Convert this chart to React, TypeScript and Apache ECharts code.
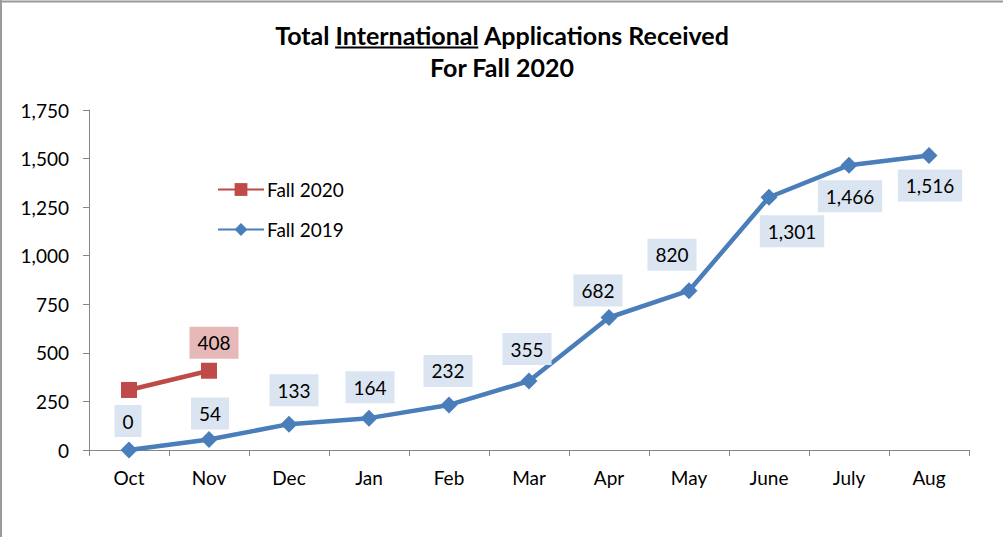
import React, { useEffect, useRef } from "react";
import * as echarts from "echarts";

const months = ["Oct", "Nov", "Dec", "Jan", "Feb", "Mar", "Apr", "May", "June", "July", "Aug"];
const fall2019 = [0, 54, 133, 164, 232, 355, 682, 820, 1301, 1466, 1516];
const fall2020 = [309, 408];
const seriesNames = ["Fall 2020", "Fall 2019"];
const titleParts = ["Total ", "International", " Applications Received"];
const titleLine2 = "For Fall 2020";

// label placement (styling, relative to each point)
const offsets2019 = [[-1, -29], [1, -26], [5, -34], [1, -31], [-1, -34], [-2, -32], [-11, -27], [-17, -36], [23, 34], [1, 31], [1, 30]];
const offsets2020 = [null, [5, -28]];

const FONT = "Lato, 'Open Sans', sans-serif";

function measure(text: string, font: string) {
  const c = document.createElement("canvas").getContext("2d")!;
  c.font = font;
  return c.measureText(text).width;
}

export default function App() {
  const ref = useRef<HTMLDivElement>(null);
  useEffect(() => {
    const chart = echarts.init(ref.current!, null, { renderer: "svg" });
    const titleFont = "bold 25px Lato";
    const w0 = measure(titleParts[0], titleFont);
    const w1 = measure(titleParts[1], titleFont);
    const wAll = measure(titleParts.join(""), titleFont);
    const cx = 502;
    const start = cx - wAll / 2;
    const ulX1 = start + w0;
    const ulX2 = ulX1 + w1;

    const labelBase = {
      show: true,
      position: "inside",
      fontSize: 19,
      fontFamily: FONT,
      color: "#000",
      padding: [7, 8, 6, 8],
    };

    chart.setOption({
      animation: false,
      backgroundColor: "#fff",
      textStyle: { fontFamily: FONT },
      grid: { left: 89, right: 34, top: 110, bottom: 87, containLabel: false },
      legend: {
        orient: "vertical",
        left: 212,
        top: 175,
        itemWidth: 46,
        itemHeight: 16,
        itemGap: 21,
        data: seriesNames,
        textStyle: { fontSize: 19, fontFamily: FONT, color: "#000", padding: [0, 0, 0, -2] },
      },
      xAxis: {
        type: "category",
        data: months,
        boundaryGap: true,
        axisLine: { lineStyle: { color: "#868686", width: 1 } },
        axisTick: { show: true, length: 6, lineStyle: { color: "#868686" } },
        axisLabel: { fontSize: 19, fontFamily: FONT, color: "#000", margin: 18 },
        splitLine: { show: false },
      },
      yAxis: {
        type: "value",
        min: 0,
        max: 1750,
        interval: 250,
        axisLine: { show: true, lineStyle: { color: "#868686", width: 1 } },
        axisTick: { show: true, length: 6, lineStyle: { color: "#868686" } },
        axisLabel: {
          fontSize: 19,
          fontFamily: FONT,
          color: "#000",
          margin: 20,
          formatter: (v: number) => v.toLocaleString("en-US"),
        },
        splitLine: { show: false },
      },
      series: [
        {
          name: seriesNames[0],
          type: "line",
          data: fall2020.map((v, i) => ({
            value: v,
            label: offsets2020[i]
              ? { ...labelBase, backgroundColor: "#e6b9b8", offset: offsets2020[i] }
              : { show: false },
          })),
          symbol: "rect",
          symbolSize: 16,
          itemStyle: { color: "#be4b48" },
          lineStyle: { color: "#be4b48", width: 4.5 },
          z: 3,
        },
        {
          name: seriesNames[1],
          type: "line",
          data: fall2019.map((v, i) => ({
            value: v,
            label: {
              ...labelBase,
              backgroundColor: "#dbe5f1",
              offset: offsets2019[i],
              formatter: (p: any) => Number(p.value).toLocaleString("en-US"),
            },
          })),
          symbol: "diamond",
          symbolSize: 17,
          itemStyle: { color: "#4a7ebb" },
          lineStyle: { color: "#4a7ebb", width: 4.5 },
          z: 2,
        },
      ],
      graphic: [
        { type: "line", shape: { x1: 0, y1: 1.5, x2: 1003, y2: 1.5 }, style: { stroke: "#9a9a9a", lineWidth: 2 } },
        { type: "line", shape: { x1: 1, y1: 0, x2: 1, y2: 537 }, style: { stroke: "#9a9a9a", lineWidth: 2 } },
        {
          type: "text",
          x: cx,
          y: 35,
          style: {
            text: titleParts.join(""),
            font: titleFont,
            fill: "#000",
            align: "center",
            verticalAlign: "middle",
          },
        },
        { type: "line", shape: { x1: ulX1, y1: 47.5, x2: ulX2, y2: 47.5 }, style: { stroke: "#000", lineWidth: 1.8 } },
        {
          type: "text",
          x: cx,
          y: 67,
          style: {
            text: titleLine2,
            font: titleFont,
            fill: "#000",
            align: "center",
            verticalAlign: "middle",
          },
        },
      ],
    });
    return () => chart.dispose();
  }, []);
  return <div ref={ref} style={{ position: "fixed", left: 0, top: 0, width: 1003, height: 537 }} />;
}
